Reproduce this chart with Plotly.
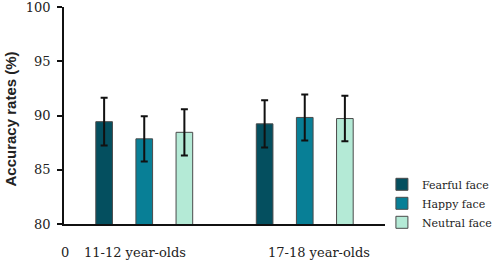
import plotly.graph_objects as go

groups = ["11-12 year-olds", "17-18 year-olds"]
series = ["Fearful face", "Happy face", "Neutral face"]
values = {
    "Fearful face": [89.43, 89.23],
    "Happy face": [87.85, 89.82],
    "Neutral face": [88.45, 89.72],
}
errors = {
    "Fearful face": [2.2, 2.18],
    "Happy face": [2.08, 2.12],
    "Neutral face": [2.13, 2.1],
}
colors = {
    "Fearful face": "#044f5f",
    "Happy face": "#087f96",
    "Neutral face": "#b4ead6",
}
y_ticks = [80, 85, 90, 95, 100]
y_title = "Accuracy rates (%)"

fig = go.Figure()
for s in series:
    fig.add_trace(go.Bar(
        x=groups, y=values[s], name=s,
        marker=dict(color=colors[s], line=dict(color="#4a4a4a", width=1)),
        error_y=dict(type="data", array=errors[s], color="#111111", thickness=2, width=3.5),
    ))

fig.update_layout(
    width=496, height=264,
    margin=dict(l=64, r=111, t=7, b=40, autoexpand=False),
    paper_bgcolor="white", plot_bgcolor="white",
    barmode="group", bargap=0.25, bargroupgap=0.585,
    font=dict(family="DejaVu Serif", size=13, color="#222222"),
    showlegend=True,
    legend=dict(xref="container", yref="container", x=0.77, xanchor="left",
                y=0.103, yanchor="bottom",
                font=dict(family="DejaVu Serif", size=11, color="#222222"),
                bgcolor="rgba(0,0,0,0)", tracegroupgap=0),
    xaxis=dict(range=[-0.5, 1.5], showticklabels=False, showline=True,
               linecolor="#111111", linewidth=1.5, ticks="", showgrid=False, zeroline=False),
    yaxis=dict(range=[80, 100], tickvals=y_ticks, ticks="outside", ticklen=5,
               tickcolor="#111111", tickwidth=1.5, showline=True, linecolor="#111111",
               linewidth=1.5, showgrid=False, zeroline=False, ticklabeloverflow="allow",
               ticklabelstandoff=4,
               tickfont=dict(family="DejaVu Serif", size=13, color="#222222")),
)

fig.add_annotation(x=0, xref="paper", y=0.5, yref="paper", xshift=-54, yshift=-4,
                   xanchor="center", yanchor="middle",
                   text="<b>" + y_title + "</b>", textangle=-90, showarrow=False,
                   font=dict(family="Liberation Sans", size=15, color="#222222"))
fig.add_annotation(x=groups[0], y=0, yref="paper", xshift=-9, yshift=-28,
                   text=groups[0], showarrow=False, yanchor="middle")
fig.add_annotation(x=groups[1], y=0, yref="paper", xshift=14, yshift=-28,
                   text=groups[1], showarrow=False, yanchor="middle")
fig.add_annotation(x=0, xref="paper", y=0, yref="paper", xshift=-5, yshift=-28,
                   text="0", showarrow=False, yanchor="middle")

fig.write_html("out.html", config={"displayModeBar": False},
               post_script="document.body.style.margin='0';")
